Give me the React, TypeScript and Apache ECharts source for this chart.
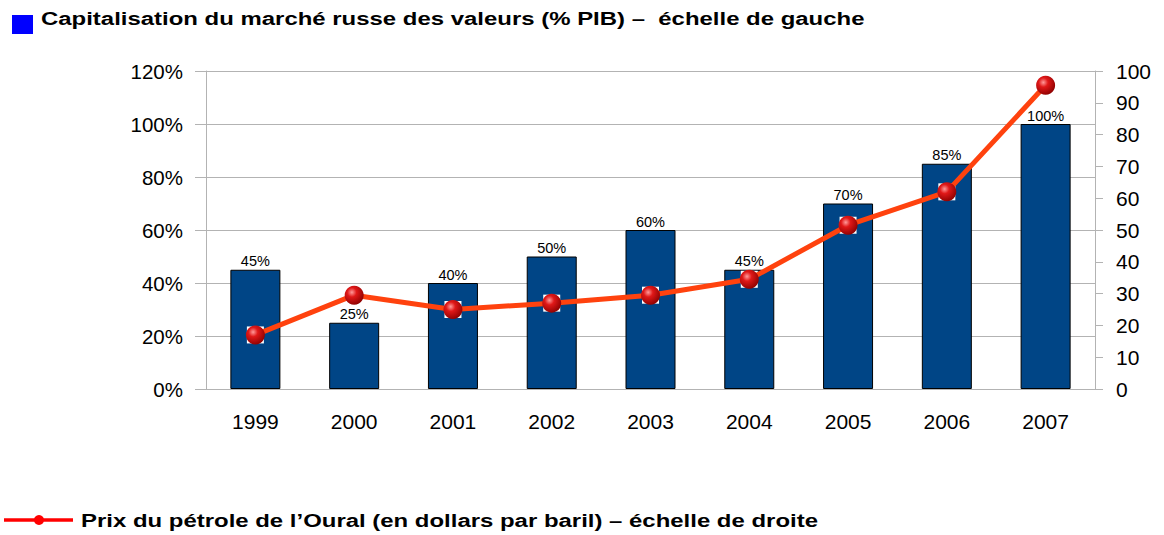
import React, { useEffect, useRef } from "react";
import * as echarts from "echarts";

const years = ["1999", "2000", "2001", "2002", "2003", "2004", "2005", "2006", "2007"];
const capitalisation = [45, 25, 40, 50, 60, 45, 70, 85, 100];
const oilPrice = [17, 29.5, 25, 27, 29.5, 34.5, 51.5, 62, 95.5];
const leftTicks = { min: 0, max: 120, interval: 20 };
const rightTicks = { min: 0, max: 100, interval: 10 };
const topLegend = "Capitalisation du marché russe des valeurs (% PIB) –  échelle de gauche";
const bottomLegend = "Prix du pétrole de l’Oural (en dollars par baril) – échelle de droite";

const FONT = "'Liberation Sans', Arial, sans-serif";

export default function App() {
  const ref = useRef<HTMLDivElement>(null);
  useEffect(() => {
    if (!ref.current) return;
    const chart = echarts.init(ref.current, null, { renderer: "svg" });
    const sphere = new echarts.graphic.RadialGradient(0.38, 0.35, 0.7, [
      { offset: 0, color: "#ff9a9a" },
      { offset: 0.35, color: "#e01818" },
      { offset: 1, color: "#8a0000" },
    ]);
    chart.setOption({
      animation: false,
      textStyle: { fontFamily: FONT },
      grid: { left: 206, right: 69, top: 71, bottom: 146 },
      xAxis: {
        type: "category",
        data: years,
        axisLine: { show: true, lineStyle: { color: "#b3b3b3" } },
        axisTick: { show: false },
        axisLabel: { color: "#000", fontSize: 21, margin: 22, fontFamily: FONT },
      },
      yAxis: [
        {
          type: "value",
          min: leftTicks.min,
          max: leftTicks.max,
          interval: leftTicks.interval,
          position: "left",
          axisLine: { show: true, lineStyle: { color: "#b3b3b3" } },
          axisTick: { show: true, length: 11, lineStyle: { color: "#b3b3b3" } },
          axisLabel: { color: "#000", fontSize: 20.5, margin: 23, formatter: "{value}%", fontFamily: FONT },
          splitLine: { show: true, lineStyle: { color: "#b3b3b3" } },
        },
        {
          type: "value",
          min: rightTicks.min,
          max: rightTicks.max,
          interval: rightTicks.interval,
          position: "right",
          axisLine: { show: true, lineStyle: { color: "#b3b3b3" } },
          axisTick: { show: true, length: 8, lineStyle: { color: "#b3b3b3" } },
          axisLabel: { color: "#000", fontSize: 21, margin: 21, fontFamily: FONT },
          splitLine: { show: false },
        },
      ],
      series: [
        {
          type: "bar",
          data: capitalisation,
          yAxisIndex: 0,
          barWidth: 50,
          itemStyle: { color: "#004586", borderColor: "#000", borderWidth: 1 },
          label: {
            show: true,
            position: "top",
            distance: 1,
            formatter: "{c}%",
            color: "#000",
            fontSize: 14.5,
            fontFamily: FONT,
          },
          z: 2,
        },
        {
          type: "line",
          data: oilPrice,
          yAxisIndex: 1,
          symbol: "rect",
          symbolSize: 17,
          showSymbol: true,
          lineStyle: { width: 0, opacity: 0 },
          itemStyle: { color: "#ffffff", borderWidth: 0 },
          z: 3,
        },
        {
          type: "line",
          data: oilPrice,
          yAxisIndex: 1,
          symbol: "circle",
          symbolSize: 19,
          showSymbol: true,
          lineStyle: { width: 5, color: "#ff420e" },
          itemStyle: { color: sphere, borderWidth: 0 },
          z: 4,
        },
      ],
      graphic: [
        { type: "rect", shape: { x: 12, y: 15, width: 21, height: 19 }, style: { fill: "#0000ff" } },
        {
          type: "text",
          x: 41,
          y: 18,
          scaleX: 1.26,
          style: {
            text: topLegend,
            font: `bold 19px ${FONT}`,
            fill: "#000",
            textVerticalAlign: "middle",
          },
        },
        { type: "line", shape: { x1: 4, y1: 520, x2: 73, y2: 520 }, style: { stroke: "#ff0000", lineWidth: 3.5 } },
        { type: "circle", shape: { cx: 39, cy: 520, r: 5 }, style: { fill: "#ff0000" } },
        {
          type: "text",
          x: 81,
          y: 520,
          scaleX: 1.26,
          style: {
            text: bottomLegend,
            font: `bold 19px ${FONT}`,
            fill: "#000",
            textVerticalAlign: "middle",
          },
        },
      ],
    });
    return () => chart.dispose();
  }, []);
  return (
    <div
      ref={ref}
      style={{ position: "fixed", left: 0, top: 0, width: 1164, height: 535, background: "#fff" }}
    />
  );
}
